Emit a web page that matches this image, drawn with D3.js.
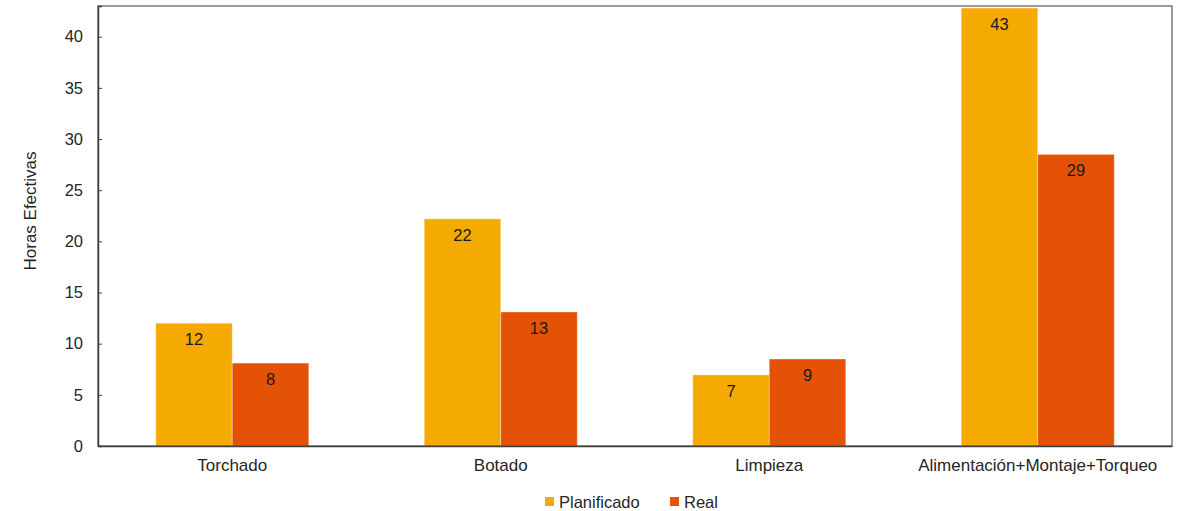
<!DOCTYPE html>
<html><head><meta charset="utf-8">
<script src="https://cdn.jsdelivr.net/npm/d3@7"></script>
<style>
body{margin:0;background:#fff;}
svg{display:block;font-family:"Liberation Sans",Arial,sans-serif;}
</style></head>
<body><svg id="c" width="1177" height="511"></svg>
<script>
const categories = ["Torchado","Botado","Limpieza","Alimentación+Montaje+Torqueo"];
const seriesNames = ["Planificado","Real"];
const planificado = [12.0, 22.2, 6.95, 42.8];
const real = [8.1, 13.1, 8.5, 28.5];
const labelsPlan = ["12","22","7","43"];
const labelsReal = ["8","13","9","29"];
const yTicks = [0,5,10,15,20,25,30,35,40];
const colors = ["#F4AA00","#E35205"];

const svg = d3.select("#c");
const L=98, R=1172, T=6, B=446;
const x = d3.scaleBand().domain(categories).range([L,R]).paddingInner(0.43).paddingOuter(0.215);
const xs = d3.scaleBand().domain(seriesNames).range([0,x.bandwidth()]);
const y = d3.scaleLinear().domain([0,43]).range([B,T]);

const data = categories.map((c,i)=>({cat:c, vals:[planificado[i],real[i]], labs:[labelsPlan[i],labelsReal[i]]}));

const g = svg.append("g");
data.forEach(d=>{
  d.vals.forEach((v,j)=>{
    const bx = x(d.cat)+xs(seriesNames[j]);
    g.append("rect").attr("x",bx).attr("y",y(v)).attr("width",xs.bandwidth()).attr("height",y(0)-y(v))
      .attr("fill",colors[j]).attr("stroke","#ffffff").attr("stroke-opacity",0.35).attr("stroke-width",1);
    g.append("text").attr("x",bx+xs.bandwidth()/2).attr("y",y(v)+22).attr("text-anchor","middle")
      .attr("font-size",16.5).attr("fill","#1a1a1a").text(d.labs[j]);
  });
});

// frame
svg.append("rect").attr("x",L).attr("y",T).attr("width",R-L).attr("height",B-T).attr("fill","none").attr("stroke","#595959").attr("stroke-width",1.2);

// y axis
const ya = svg.append("g").attr("transform",`translate(${L},0)`).call(d3.axisLeft(y).tickValues(yTicks).tickSize(-4).tickPadding(15));
ya.select(".domain").attr("stroke","#404040").attr("stroke-width",1.5);
ya.selectAll(".tick line").attr("stroke","#404040");
ya.selectAll("text").attr("font-size",16.5).attr("fill","#262626").attr("font-family","Liberation Sans, Arial, sans-serif");

// x axis
const xa = svg.append("g").attr("transform",`translate(0,${B})`).call(d3.axisBottom(x).tickSize(0).tickPadding(13));
xa.select(".domain").attr("stroke","#404040").attr("stroke-width",1.5);
xa.selectAll("text").attr("font-size",17).attr("fill","#262626").attr("font-family","Liberation Sans, Arial, sans-serif");

// y title
svg.append("text").attr("transform",`translate(36,${(T+B)/2-15}) rotate(-90)`).attr("text-anchor","middle")
  .attr("font-size",17).attr("fill","#262626").text("Horas Efectivas");

// legend
const leg = svg.append("g");
const legItems = [{n:seriesNames[0],x:545},{n:seriesNames[1],x:670}];
legItems.forEach((it,i)=>{
  leg.append("rect").attr("x",it.x).attr("y",497).attr("width",9).attr("height",9).attr("fill",colors[i]);
  leg.append("text").attr("x",it.x+14).attr("y",508).attr("font-size",16.5).attr("fill","#262626").text(it.n);
});
</script></body></html>
